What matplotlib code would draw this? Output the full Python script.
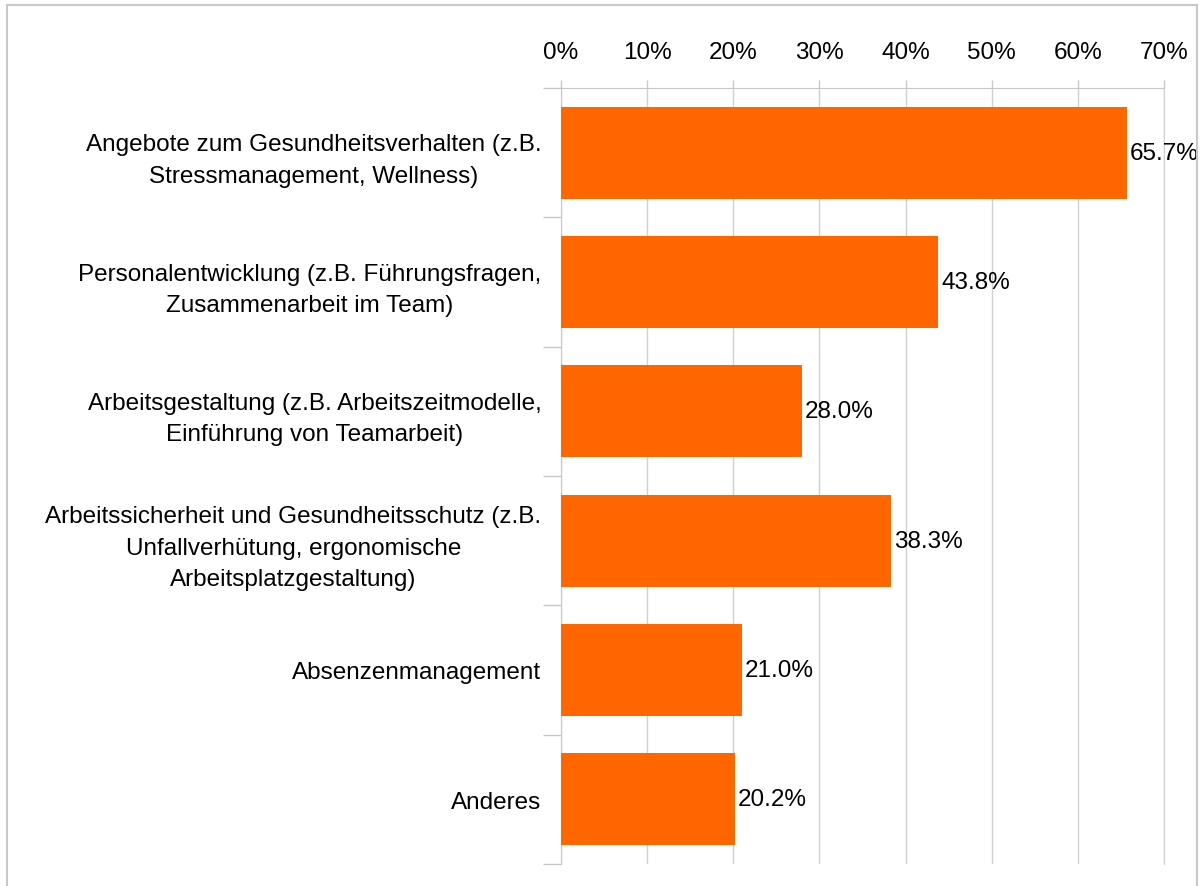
import matplotlib
matplotlib.use("Agg")
import matplotlib.pyplot as plt
from matplotlib.lines import Line2D

categories = [
    "Angebote zum Gesundheitsverhalten (z.B.\nStressmanagement, Wellness)",
    "Personalentwicklung (z.B. Führungsfragen,\nZusammenarbeit im Team)",
    "Arbeitsgestaltung (z.B. Arbeitszeitmodelle,\nEinführung von Teamarbeit)",
    "Arbeitssicherheit und Gesundheitsschutz (z.B.\nUnfallverhütung, ergonomische\nArbeitsplatzgestaltung)",
    "Absenzenmanagement",
    "Anderes",
]
values = [65.7, 43.8, 28.0, 38.3, 21.0, 20.2]
xticks = [0, 10, 20, 30, 40, 50, 60, 70]
xticklabels = [f"{t}%" for t in xticks]

plt.rcParams['font.family'] = ['Liberation Sans', 'DejaVu Sans']
FS = 17.5

W, H = 1200, 887
fig = plt.figure(figsize=(W / 100, H / 100), dpi=100)
ax = fig.add_axes([561 / W, 1 - 865 / H, (1164 - 561) / W, (865 - 89) / H])

y = list(range(len(categories)))
ax.barh(y, values, height=0.71, color="#FF6600", zorder=3)
ax.set_ylim(len(categories) - 0.5, -0.5)
ax.set_xlim(0, 70)

for yi, v in zip(y, values):
    ax.annotate(f"{v:.1f}%", (v, yi), xytext=(2, 0), textcoords="offset points",
                ha="left", va="center", fontsize=FS, color="black", zorder=4)

ax.xaxis.tick_top()
ax.set_xticks(xticks)
ax.set_xticklabels(xticklabels, fontsize=FS)
ax.tick_params(axis="x", which="both", length=6, color="#c8c8c8", pad=12, width=1)
ax.grid(axis="x", color="#d0d0d0", linewidth=1, zorder=0)

ax.set_yticks(y)
ax.set_yticklabels(categories, fontsize=FS, multialignment="center", linespacing=1.55)
ax.tick_params(axis="y", which="major", length=0, pad=14)
ax.set_yticks([i - 0.5 for i in range(len(categories) + 1)], minor=True)
ax.tick_params(axis="y", which="minor", length=13, color="#c8c8c8", width=1)

ax.spines["bottom"].set_visible(False)
ax.spines["top"].set_color("#c8c8c8")
ax.spines["left"].set_color("#c8c8c8")
ax.spines["right"].set_color("#d0d0d0")

# outer frame
c = "#c8c8c8"
fig.add_artist(Line2D([7 / W, 7 / W], [0, 1 - 6 / H], color=c, lw=1.5, transform=fig.transFigure))
fig.add_artist(Line2D([7 / W, 1197 / W], [1 - 6 / H, 1 - 6 / H], color=c, lw=1.5, transform=fig.transFigure))
fig.add_artist(Line2D([1197 / W, 1197 / W], [0, 1 - 6 / H], color=c, lw=1.5, transform=fig.transFigure))

fig.savefig("out.png", dpi=100, facecolor="white")
